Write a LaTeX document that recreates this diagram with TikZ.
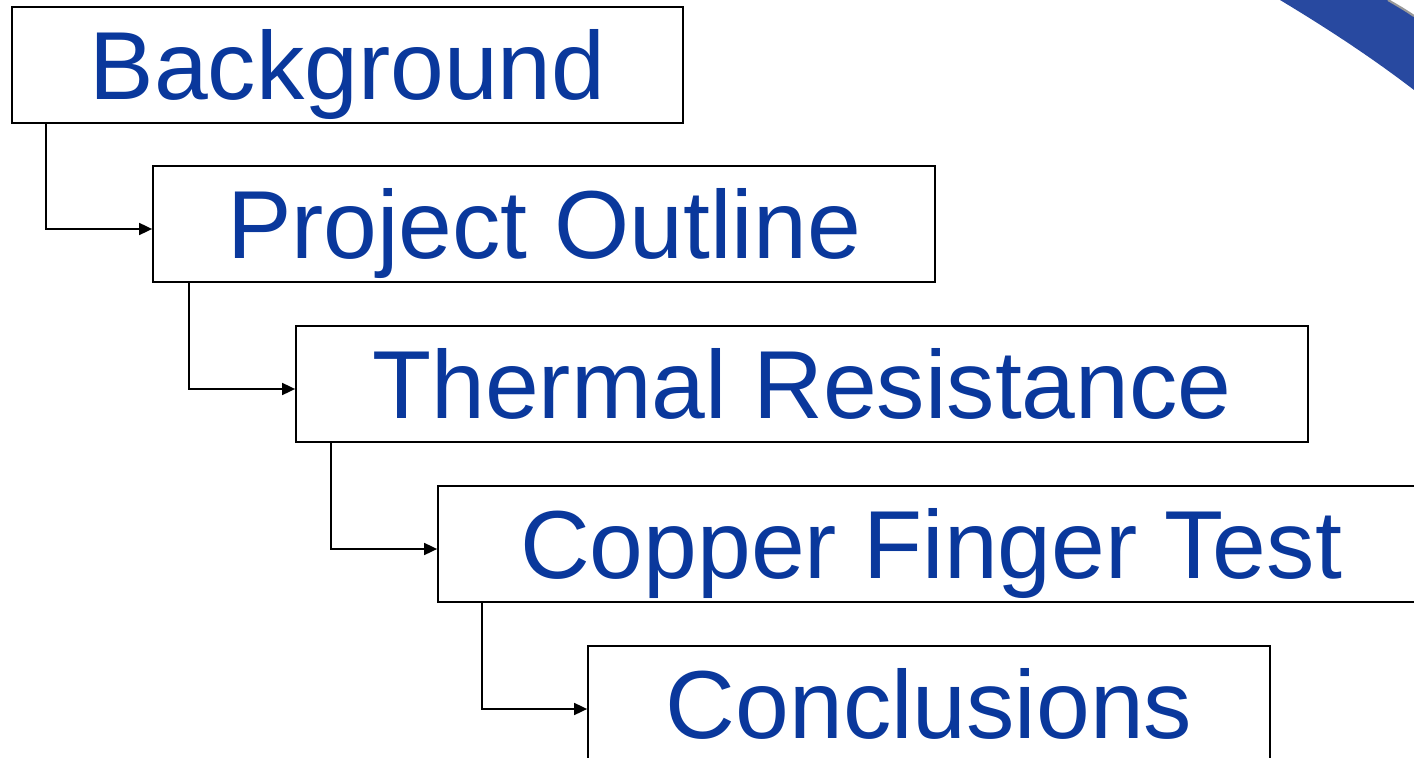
\documentclass[tikz,border=0pt]{standalone}
\usepackage{fontspec}
\setmainfont{Liberation Sans}
\usepackage{xcolor}
\usetikzlibrary{arrows.meta}
\definecolor{txtblue}{RGB}{10,56,156}
\definecolor{bandblue}{RGB}{40,73,160}
\tikzset{
  topic/.style={draw,line width=1pt,minimum height=2.32cm,inner sep=0pt,font=\fontsize{55}{60}\selectfont,text=txtblue,text height=39.4pt,text depth=0pt},
  link/.style={line width=1pt,-{Triangle[length=2.6mm,width=2.4mm]}}
}

\begin{document}
\begin{tikzpicture}
\useasboundingbox (0,0) rectangle (28.28,-15.16);
\begin{scope}
\clip (0,0) rectangle (28.28,-15.16);
\fill[bandblue] (25.6,0) .. controls (26.6,-0.6) and (27.5,-1.2) .. (28.28,-1.8) -- (28.28,-0.32) .. controls (28.1,-0.2) .. (27.76,0) -- cycle;
\draw[gray!80,line width=1.2pt] (27.76,0) .. controls (28.1,-0.2) .. (28.28,-0.32);
\node[topic,minimum width=13.42cm] (bg) at (6.95,-1.30) {Background};
\node[topic,minimum width=15.64cm] (po) at (10.88,-4.48) {Project Outline};
\node[topic,minimum width=20.24cm] (tr) at (16.04,-7.68) {Thermal Resistance};
\node[topic,minimum width=19.72cm] (cft) at (18.62,-10.88) {Copper Finger Test};
\node[topic,minimum width=13.64cm] (cc) at (18.58,-14.08) {Conclusions};
\draw[link] ([xshift=0.70cm]bg.south west) |- ([yshift=-0.1cm]po.west);
\draw[link] ([xshift=0.74cm]po.south west) |- ([yshift=-0.1cm]tr.west);
\draw[link] ([xshift=0.72cm]tr.south west) |- ([yshift=-0.1cm]cft.west);
\draw[link] ([xshift=0.90cm]cft.south west) |- ([yshift=-0.1cm]cc.west);
\end{scope}
\end{tikzpicture}
\end{document}
